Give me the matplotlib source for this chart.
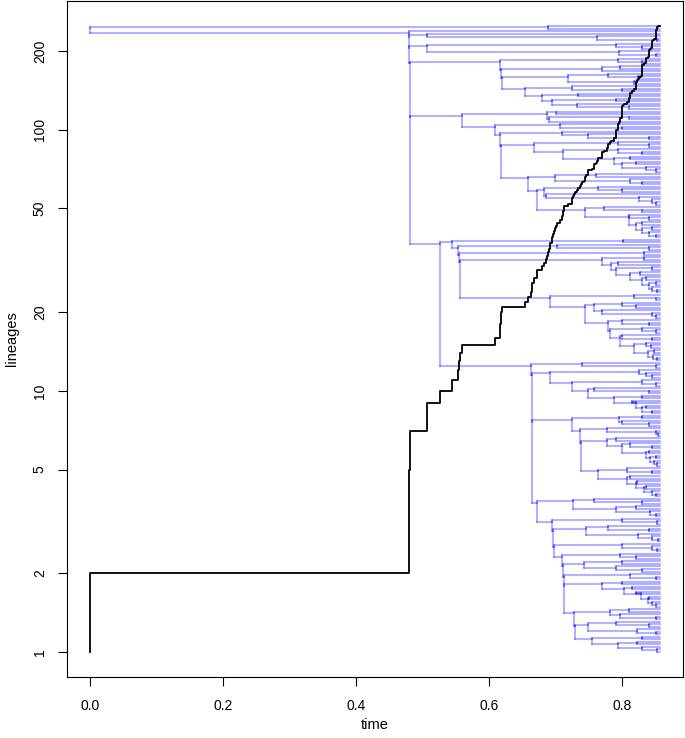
import numpy as np
import matplotlib
matplotlib.use("Agg")
import matplotlib.pyplot as plt
from matplotlib.collections import LineCollection

plt.rcParams["font.family"] = ["Liberation Sans", "DejaVu Sans"]

T_MAX = 0.857   # tip height

# Tree, nested clades top to bottom.
# "(a,b)t" = split at time t, empty entry = a tip (ends at T_MAX)
clade_a = "(,)0.688"
clade_b1 = "(,(,(,)0.852)0.762)0.507"
clade_b2 = "((,(,)0.830)0.790,(,(,)0.850)0.795)0.507"
clade_b3 = ("((,(,)0.830)0.794,(((,)0.797,)0.770,(((,(,)0.823)0.779,(,)0.817)0.719,"
            "((,(,)0.800)0.724,((,)0.734,((,)0.790,(,(,)0.810)0.732)0.695)0.679)0.654)0.619)0.618)0.617")
clade_b4 = ("(((,)0.700,((,)0.810,)0.690)0.687,((,(,)0.800)0.706,((,(,(,)0.840)0.749)0.709,"
            "(((,(,)0.840)0.794,((,(,)0.830)0.794,((,)0.812,((,)0.820,(,(,)0.850)0.835)0.800)0.787)0.711)0.667,"
            "(((,)0.760,(,(,)0.830)0.812)0.699,(((,(,)0.800)0.764,(,(,(,(,)0.850)0.845)0.825)0.686)0.682,"
            "((,(,)0.830)0.772,((,(,)0.840)0.810,((,)0.830,((,)0.845,(,(,)0.850)0.840)0.830)0.820)0.810)0.744)0.672)0.659"
            ")0.618)0.617)0.609)0.559")
clade_c1 = ("((,)0.801,((,(,)0.840)0.702,((,)0.832,"
            "(((,)0.832,((,)0.794,((,)0.845,((,)0.827,((,)0.835,((,)0.850,(,(,)0.852)0.845)0.840)0.830)0.812)0.790)0.783)0.769,"
            "((,(,)0.850)0.817,(((,(,)0.820)0.800,(,(,(,)0.850)0.845)0.770)0.757,"
            "((,(,)0.840)0.800,((,(,)0.850)0.830,((,(,)0.845)0.800,((,(,)0.843)0.835,((,)0.848,(,(,)0.852)0.846)0.838)0.818)0.796)0.782)0.779)0.744)0.692"
            ")0.556)0.554)0.553)0.544")
clade_c2 = ("((,(,)0.850)0.739,"
            "(((,(,(,)0.845)0.835)0.825,((,(,)0.850)0.830,((,(,)0.840)0.757,((,)0.830,((,)0.815,((,)0.835,(,)0.845)0.830)0.820)0.787)0.749)0.724)0.692,"
            "((((,)0.830,(,(,)0.840)0.800)0.795,((,(,(,)0.853)0.850)0.777,"
            "(((,)0.790,((,(,)0.845)0.812,((,)0.840,((,)0.850,(,(,)0.852)0.848)0.842)0.835)0.800)0.777,"
            "((,(,)0.845)0.807,((,)0.812,((,)0.822,((,)0.835,(,(,)0.850)0.845)0.832)0.820)0.807)0.764)0.738)0.737)0.724,"
            "(((,(,)0.830)0.757,((,)0.820,(,(,)0.850)0.842)0.790)0.726,"
            "((,(,)0.852)0.800,(((,(,)0.840)0.778,(,(,(,)0.854)0.845)0.824)0.745,"
            "((,(,(,)0.852)0.845)0.800,((,(,)0.820)0.796,(((,)0.800,(,(,)0.830)0.790)0.742,((,(,)0.850)0.812,"
            "(((,)0.800,((,)0.815,((,)0.820,((,)0.840,(,(,)0.850)0.845)0.838)0.828)0.803)0.770,"
            "(((,)0.810,(,(,)0.850)0.796)0.782,(((,(,)0.840)0.790,(,(,)0.850)0.822)0.748,"
            "((,)0.830,((,)0.822,(,(,)0.852)0.830)0.793)0.754)0.729)0.728"
            ")0.713)0.712)0.711)0.710)0.698)0.696)0.695)0.672)0.665)0.664)0.663")
clade_b5 = f"({clade_c1},{clade_c2})0.526"
tree_str = (f"({clade_a},(,({clade_b1},({clade_b2},({clade_b3},"
            f"({clade_b4},{clade_b5})0.481)0.481)0.480)0.480)0.480)0.0")

x_ticks = [0.0, 0.2, 0.4, 0.6, 0.8]
y_ticks = [1, 2, 5, 10, 20, 50, 100, 200]


def parse(s):
    pos = 0

    def read():
        nonlocal pos
        if s[pos] != "(":
            return {"t": T_MAX, "kids": []}
        pos += 1
        kids = [read()]
        while s[pos] == ",":
            pos += 1
            kids.append(read())
        pos += 1
        end = pos
        while end < len(s) and s[end] not in ",)":
            end += 1
        t = float(s[pos:end])
        pos = end
        return {"t": t, "kids": kids}

    return read()


tree = parse(tree_str)

tips, inner = [], []


def collect(n):
    (inner if n["kids"] else tips).append(n)
    for k in n["kids"]:
        collect(k)


collect(tree)
N = len(tips)
for i, tp in enumerate(tips):
    tp["u"] = N - 1 - i


def place(n):
    if n["kids"]:
        us = [place(k) for k in n["kids"]]
        n["u"] = np.logaddexp(max(us), min(us)) - np.log(2)
    return n["u"]


place(tree)


def yv(u):
    return np.exp(u / (N - 1) * np.log(N))


segs = []
for n in inner:
    for c in n["kids"]:
        segs.append([(n["t"], yv(n["u"])), (n["t"], yv(c["u"]))])
        segs.append([(n["t"], yv(c["u"])), (c["t"], yv(c["u"]))])

# lineages through time from the node times
node_times = sorted(n["t"] for n in inner)
ltt_t = [0.0] + node_times + [T_MAX]
ltt_n = [1] + list(range(2, N + 1)) + [N]

fig = plt.figure(figsize=(6.85, 7.38), dpi=100)
ax = fig.add_axes([67 / 685, 1 - 677 / 738, 616 / 685, 676 / 738])

ax.add_collection(LineCollection(segs, colors=[(0, 0, 1, 0.3)], linewidths=1.5,
                                 capstyle="round"))
ax.step(ltt_t, ltt_n, where="post", color="black", lw=1.3)

ax.set_yscale("log")
ax.set_xlim(-0.04 * T_MAX, 1.04 * T_MAX)
ax.set_ylim(np.exp(-0.04 * np.log(N)), np.exp(1.04 * np.log(N)))
ax.set_xticks(x_ticks)
ax.set_xticklabels([f"{v:.1f}" for v in x_ticks])
ax.set_yticks(y_ticks)
ax.set_yticklabels([str(v) for v in y_ticks], rotation=90, va="center")
ax.minorticks_off()
ax.tick_params(axis="both", length=6.5, width=0.8, labelsize=10)
ax.tick_params(axis="x", pad=9)
ax.tick_params(axis="y", pad=8)
for sp in ax.spines.values():
    sp.set_linewidth(0.8)

fig.text(375 / 685, 1 - 725 / 738, "time", ha="center", va="center", fontsize=10.5)
fig.text(12 / 685, 1 - 339 / 738, "lineages", ha="center", va="center",
         rotation=90, fontsize=10.5)

fig.savefig("out.png", dpi=100)
